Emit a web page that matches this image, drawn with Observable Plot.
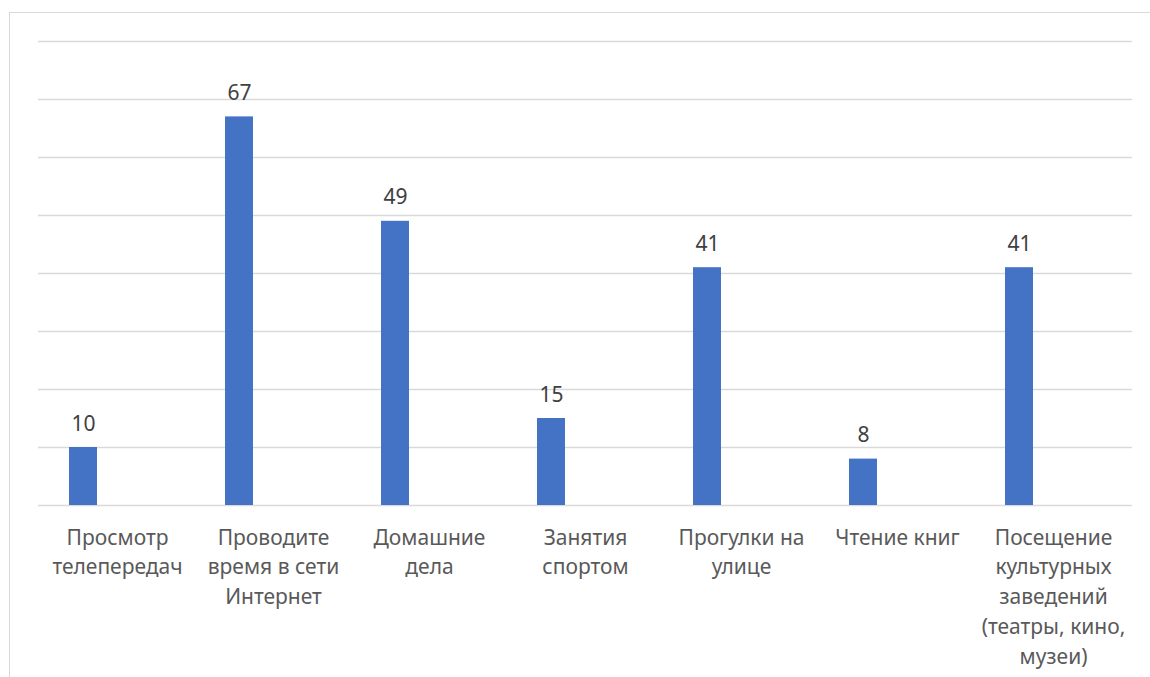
<!DOCTYPE html>
<html>
<head>
<meta charset="utf-8">
<script src="https://cdn.jsdelivr.net/npm/d3@7"></script>
<script src="https://cdn.jsdelivr.net/npm/@observablehq/plot@0.6"></script>
<style>
  html, body { margin: 0; padding: 0; background: #fff; overflow: hidden; }
  #wrap { position: relative; width: 1150px; height: 677px; }
  #border { position: absolute; left: 9px; top: 12px; width: 1200px; height: 700px; border: 1px solid #d9d9d9; box-sizing: border-box; }
  #chart { position: absolute; left: 0; top: 0; }
</style>
</head>
<body>
<div id="wrap"><div id="border"></div><div id="chart"></div></div>
<script>
const categories = [
  "Просмотр телепередач",
  "Проводите время в сети Интернет",
  "Домашние дела",
  "Занятия спортом",
  "Прогулки на улице",
  "Чтение книг",
  "Посещение культурных заведений (театры, кино, музеи)"
];
const tickLabels = [
  "Просмотр\nтелепередач",
  "Проводите\nвремя в сети\nИнтернет",
  "Домашние\nдела",
  "Занятия\nспортом",
  "Прогулки на\nулице",
  "Чтение книг",
  "Посещение\nкультурных\nзаведений\n(театры, кино,\nмузеи)"
];
const values = [10, 67, 49, 15, 41, 8, 41];
const yTicks = [0, 10, 20, 30, 40, 50, 60, 70, 80];

const data = categories.map((c, i) => ({cat: c, label: tickLabels[i], val: values[i]}));

const font = "'Noto Sans', 'Open Sans', sans-serif";

const chart = Plot.plot({
  width: 1150,
  height: 677,
  marginLeft: 38,
  marginRight: 18,
  marginTop: 41,
  marginBottom: 172,
  style: {fontFamily: font, background: "transparent"},
  x: {domain: categories, padding: 0, axis: null},
  y: {domain: [0, 80], axis: null},
  marks: [
    Plot.ruleY(yTicks, {stroke: "#d9d9d9", strokeWidth: 1.3}),
    Plot.barY(data, {x: "cat", y: "val", fill: "#4472C4", insetLeft: 30, insetRight: 98}),
    Plot.text(data, {x: "cat", y: "val", text: d => String(d.val), dx: -34, dy: -17,
      lineAnchor: "bottom", fontSize: 21, fill: "#404040"}),
    Plot.text(data, {x: "cat", frameAnchor: "bottom", text: "label", lineAnchor: "top",
      dy: 18, fontSize: 21, lineHeight: 1.42, fill: "#595959"})
  ]
});
document.getElementById("chart").appendChild(chart);
</script>
</body>
</html>
